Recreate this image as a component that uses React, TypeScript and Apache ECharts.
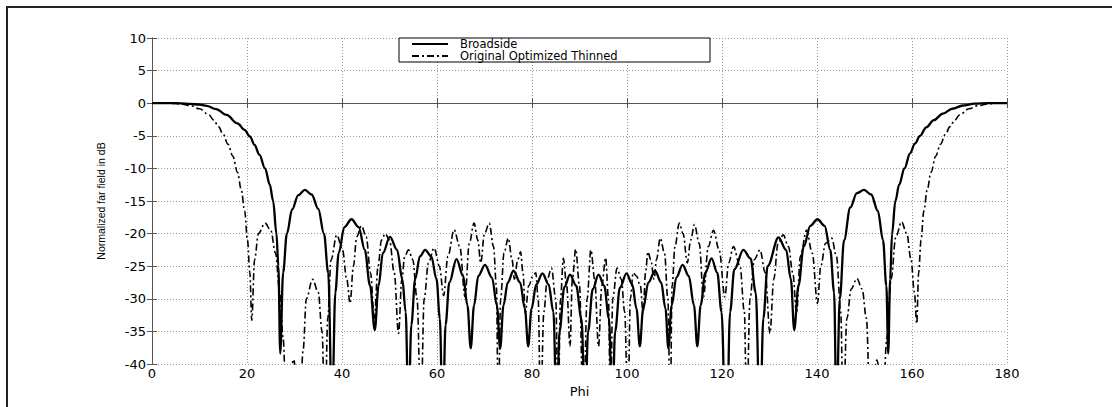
import React, { useEffect, useRef } from "react";
import * as echarts from "echarts";

// Axis ranges and tick labels
const xTicks = [0, 20, 40, 60, 80, 100, 120, 140, 160, 180];
const yTicks = [-40, -35, -30, -25, -20, -15, -10, -5, 0, 5, 10];

const seriesNames = ["Broadside", "Original Optimized Thinned"];

// Broadside array pattern: angle (deg) and normalized level (dB)
const phiBroadside = [
  0, 4, 6, 8, 10, 11.5, 13.5, 15.7, 18, 19.5, 20.6, 21.6, 22.6, 23.8, 24.8, 25.5, 26.2, 26.6, 27,
  27.6, 28.4, 29.5, 30.8, 32.2, 33.6, 35, 36.2, 37.1, 37.9,
  38.6, 39.3, 40.5, 42, 43.5, 44.8, 45.9, 46.9,
  47.7, 48.6, 50.1, 51.6, 52.7, 53.4, 54,
  54.6, 55.4, 56.4, 57.5, 58.8, 59.9, 60.6, 61.2,
  61.8, 62.6, 64.1, 65.5, 66.4, 67.1,
  67.8, 68.7, 70.1, 71.6, 72.6, 73.3,
  74, 74.9, 76.1, 77.5, 78.5, 79.2,
  79.9, 80.9, 82.2, 83.5, 84.5, 85.2,
  85.8, 86.8, 88, 89.3, 90.4, 91.2,
  91.8, 92.8, 94, 95.2, 96.2, 96.9,
  97.5, 98.5, 99.9, 101.1, 102, 102.7,
  103.4, 104.5, 105.9, 107.2, 108.1, 108.7,
  109.4, 110.4, 111.7, 113, 114.1, 114.8,
  115.5, 116.5, 117.8, 119, 119.9, 120.9,
  121.7, 122.6, 124.5, 126, 127.1, 128,
  128.7, 129.6, 131.9, 133.5, 134.5, 135.2,
  136.1, 137.2, 138.6, 140.1, 141.6, 142.8, 143.6, 144.1,
  144.8, 145.7, 147, 148.4, 149.9, 151.4, 152.8, 153.9, 154.6, 155,
  155.4, 155.8, 156.5, 157.3, 158.4, 159.6, 160.6, 161.7, 163, 164.6, 166.5, 168.5, 170.7, 173.2, 176, 180,
];
const dbBroadside = [
  0, 0, -0.02, -0.1, -0.22, -0.4, -0.9, -1.8, -3.1, -4.1, -5.1, -6.4, -7.9, -10, -12.5, -15, -20, -25, -38.4,
  -26, -20, -16.3, -14.1, -13.3, -14, -16.2, -20, -26, -48,
  -29, -23, -19, -17.8, -19, -22.5, -28, -34.8,
  -28, -23, -20.5, -22.5, -27, -32, -48,
  -34, -27, -23.5, -22.5, -23.5, -27, -33, -50,
  -34, -27.5, -23.9, -26.5, -31, -37.6,
  -31, -26.5, -24.8, -26.8, -31, -37.6,
  -31, -27.5, -25.7, -27.5, -31.5, -37.3,
  -31.5, -27.8, -26.1, -27.8, -32, -48,
  -35, -28.2, -26.3, -28, -33, -48,
  -35, -28.5, -26.3, -28, -33, -48,
  -35, -28.3, -26.1, -27.8, -31.5, -37.3,
  -31.5, -27.5, -25.7, -27.5, -31.5, -37.6,
  -31, -26.7, -24.8, -26.5, -31, -37.3,
  -31, -26, -23.8, -26, -32, -55,
  -32, -25.5, -22.5, -23.8, -29, -50,
  -33, -25, -20.6, -22.5, -27, -34.8,
  -28, -22, -18.8, -17.8, -18.8, -22.5, -29, -48,
  -30, -21, -16, -13.8, -13.3, -14, -16.5, -21, -28, -38.4,
  -27, -20, -15, -12.5, -10, -7.7, -6.2, -5, -3.7, -2.6, -1.6, -0.85, -0.35, -0.08, 0, 0,
];

// Original optimized thinned array pattern: angle (deg) and level (dB)
const phiThinned = [
  0, 4, 6, 8, 10, 12, 13, 14, 15, 16, 17, 18, 18.8, 19.5, 20.1, 20.6, 21,
  21.6, 22.4, 23.8, 25, 26, 26.9, 27.6, 28.3,
  29.2, 29.8, 30.5, 31,
  31.8, 32.5, 33.8, 35, 35.8, 36.4,
  37, 37.7, 38.9, 40.1, 41, 41.7,
  42.4, 43.1, 44.1, 45.1, 46, 46.8,
  47.6, 48.3, 49.1, 50, 51, 51.9,
  52.6, 53.2, 54, 54.9, 55.8, 56.6,
  57.3, 58.2, 59.4, 60.5, 61.4, 62.3, 63.6, 64.8, 65.9, 66.8, 67.8,
  68.6, 69.2, 70, 71, 71.9, 72.5, 72.9, 73.4, 74.1, 75, 75.8, 76.3, 77, 77.6,
  78.1, 78.6, 79.3, 80.2, 80.8, 81.3, 81.8, 82.5, 83.2, 84.1, 85, 85.5,
  86, 86.6, 87.3, 88, 88.5, 89.2, 90, 90.8, 91.6, 92.4, 93.2, 94, 94.7, 95.5,
  96.1, 96.5, 97, 97.9, 98.8, 99.5, 100.2, 100.7, 101.3, 102, 102.8, 103.4,
  103.9, 104.4, 105, 105.7, 106.2, 107, 107.9, 108.6, 109.1, 109.5, 110.1, 111,
  111.8, 112.7, 113.4, 114.2, 115.2, 116.1, 117.1, 118.2, 119.4, 120.6, 121.4, 122.4,
  123.8, 124.7, 125.2, 125.9, 126.8, 128, 129.1, 130.1, 130.9, 131.8, 132.9, 134,
  134.9, 135.7, 136.5, 137.8, 139, 140.1, 140.8, 141.8, 143.1, 144.1, 145, 145.5,
  146.3, 147.2, 148.4, 149.5, 150.4, 151.2, 152, 152.6, 153.2, 153.8,
  154.7, 155.6, 156.6, 157.8, 158.9, 159.8, 160.5, 161,
  161.4, 161.9, 162.5, 163.2, 164, 165, 166, 167, 168, 169, 170, 172, 174, 176, 178, 180,
];
const dbThinned = [
  0, 0, -0.1, -0.35, -0.85, -1.8, -2.6, -3.6, -4.8, -6.3, -8.1, -10.6, -13.3, -16.5, -21, -26, -33.3,
  -24, -20, -18.4, -19.5, -23, -29, -36, -48,
  -41, -39.3, -42, -50,
  -38, -30, -27, -29, -35, -50,
  -33, -24, -20.2, -22.5, -27, -30.7,
  -25, -20.5, -18.8, -20.5, -26, -33,
  -25, -21, -20, -21, -26, -35.3,
  -27, -23.5, -22.5, -24, -30, -48,
  -30, -24.5, -22.2, -25, -29.5, -23.5, -19.4, -22, -29.7, -21.5, -18.4,
  -21, -24.5, -20, -18.4, -22, -28, -48, -30, -23, -20.7, -24, -27, -24, -22.8,
  -26, -32.2, -28, -26.5, -26, -30, -48, -32, -27, -25.3, -30, -48,
  -30, -23.8, -28, -37.3, -27, -22.4, -28, -50, -30, -22.5, -27, -37.3, -28, -23.7,
  -30, -48, -30, -25.3, -27, -32, -48, -30, -26, -26.5, -28, -32.2,
  -26, -22.8, -24, -27, -24, -20.7, -23, -30, -48, -28, -22, -18.4,
  -20, -24.5, -21, -18.6, -21.5, -29.7, -22, -19.5, -22.5, -29.7, -24.5, -22,
  -25, -32, -48, -30, -24, -22.5, -26, -35.3, -27, -21.5, -20.2, -22,
  -26, -32.2, -23.5, -19.5, -23, -30.7, -25, -21.5, -20.7, -23.5, -32, -48,
  -33, -28.5, -26.9, -28.5, -33, -48, -41, -39.4, -41, -48,
  -36, -27, -20.5, -18.2, -20, -24, -29, -33.8,
  -26, -21, -16.5, -13.3, -10.6, -8.1, -6.3, -4.8, -3.6, -2.6, -1.8, -0.85, -0.35, -0.1, 0, 0,
];

const toPairs = (xs: number[], ys: number[]) => xs.map((x, i) => [x, ys[i]]);

const FONT = "DejaVu Sans";

export default function App() {
  const ref = useRef<HTMLDivElement>(null);

  useEffect(() => {
    if (!ref.current) return;
    const chart = echarts.init(ref.current, undefined, { renderer: "svg" });

    const axisLine = { show: true, lineStyle: { color: "#555", width: 1 } };
    const tick = { show: true, inside: true, length: 5, lineStyle: { color: "#555" } };
    const grid = { show: true, lineStyle: { color: "#9a9a9a", width: 1, type: [1, 2] } };

    chart.setOption({
      animation: false,
      backgroundColor: "#fff",
      textStyle: { fontFamily: FONT, color: "#000" },
      grid: { left: 152, top: 38, width: 855, height: 326, containLabel: false },
      legend: {
        orient: "vertical",
        left: 399,
        top: 38,
        itemWidth: 36,
        itemHeight: 10,
        itemGap: 0,
        padding: [0, 5, 0, 12],
        backgroundColor: "#fff",
        borderColor: "#000",
        borderWidth: 1,
        borderRadius: 0,
        data: seriesNames,
        itemStyle: { opacity: 0 },
        textStyle: {
          fontFamily: FONT,
          fontSize: 11.5,
          lineHeight: 12,
          color: "#000",
          width: 245,
          padding: [0, 0, 0, 7],
        },
      },
      xAxis: [
        {
          type: "value",
          position: "bottom",
          min: xTicks[0],
          max: xTicks[xTicks.length - 1],
          interval: 20,
          name: "Phi",
          nameLocation: "middle",
          nameGap: 13,
          nameTextStyle: { fontFamily: FONT, fontSize: 13, color: "#000" },
          axisLine,
          axisTick: tick,
          axisLabel: { color: "#000", fontFamily: FONT, fontSize: 13, margin: 3 },
          splitLine: grid,
        },
        {
          type: "value",
          position: "top",
          min: xTicks[0],
          max: xTicks[xTicks.length - 1],
          interval: 20,
          axisLine,
          axisTick: tick,
          axisLabel: { show: false },
          splitLine: { show: false },
        },
      ],
      yAxis: [
        {
          type: "value",
          position: "left",
          min: yTicks[0],
          max: yTicks[yTicks.length - 1],
          interval: 5,
          name: "Normalized far field in dB",
          nameLocation: "middle",
          nameGap: 46,
          nameTextStyle: { fontFamily: "Liberation Sans", fontSize: 10.5, color: "#000" },
          axisLine,
          axisTick: tick,
          axisLabel: { color: "#000", fontFamily: FONT, fontSize: 13, margin: 6 },
          splitLine: grid,
        },
        {
          type: "value",
          position: "right",
          min: yTicks[0],
          max: yTicks[yTicks.length - 1],
          interval: 5,
          axisLine,
          axisTick: tick,
          axisLabel: { show: false },
          splitLine: { show: false },
        },
      ],
      series: [
        {
          name: seriesNames[0],
          type: "line",
          data: toPairs(phiBroadside, dbBroadside),
          symbol: "none",
          smooth: 0.35,
          smoothMonotone: "x",
          clip: true,
          lineStyle: { color: "#000", width: 2.3 },
          itemStyle: { color: "#000" },
          z: 3,
        },
        {
          name: seriesNames[1],
          type: "line",
          data: toPairs(phiThinned, dbThinned),
          symbol: "none",
          smooth: 0.35,
          smoothMonotone: "x",
          clip: true,
          lineStyle: { color: "#000", width: 1.6, type: [7, 3, 2, 3] },
          itemStyle: { color: "#000" },
          z: 2,
        },
      ],
      graphic: [
        {
          type: "line",
          shape: { x1: 6, y1: 7, x2: 1112, y2: 7 },
          style: { stroke: "#222", lineWidth: 2 },
          silent: true,
        },
        {
          type: "line",
          shape: { x1: 7, y1: 6, x2: 7, y2: 407 },
          style: { stroke: "#222", lineWidth: 2 },
          silent: true,
        },
      ],
    });

    return () => chart.dispose();
  }, []);

  return (
    <div
      ref={ref}
      style={{ position: "fixed", left: 0, top: 0, width: 1112, height: 407, background: "#fff" }}
    />
  );
}
